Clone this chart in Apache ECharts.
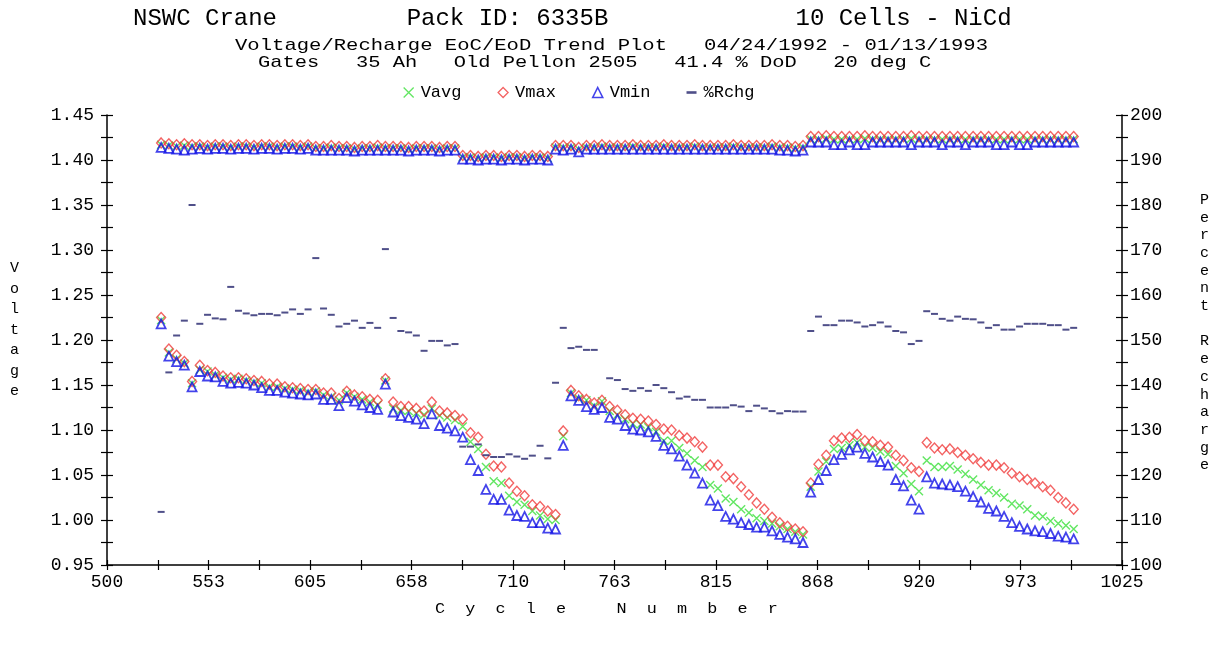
<!DOCTYPE html>
<html><head><meta charset="utf-8">
<script src="https://cdn.jsdelivr.net/npm/echarts@6.0.0/dist/echarts.min.js"></script>
<style>html,body{margin:0;padding:0;background:#fff;}#c{width:1223px;height:653px;}</style>
</head><body><div id="c"></div>
<script>
const cycles = [528,532,536,540,544,548,552,556,560,564,568,572,576,580,584,588,592,596,600,604,
608,612,616,620,624,628,632,636,640,644,648,652,656,660,664,668,672,676,680,
684,688,692,696,700,704,708,712,716,720,724,728,
732,736,740,744,748,752,756,760,764,768,772,776,780,784,788,792,796,800,804,808,812,816,820,824,828,832,836,840,844,848,852,856,860,
864,868,872,876,880,884,888,892,896,900,904,908,912,916,920,924,928,932,936,940,944,948,952,956,960,964,968,972,976,980,984,988,992,996,1000];
const xTickLabels = ['500','553','605','658','710','763','815','868','920','973','1025'];

const vmaxEoC = [1.419,1.418,1.417,1.418,1.417,1.417,1.416,1.417,1.417,1.416,1.417,1.417,1.416,1.417,1.417,1.416,1.417,1.417,1.416,1.417,
1.415,1.415,1.416,1.415,1.415,1.414,1.415,1.415,1.416,1.415,1.415,1.415,1.414,1.415,1.415,1.415,1.414,1.415,1.415,
1.405,1.405,1.404,1.405,1.405,1.404,1.405,1.405,1.404,1.405,1.405,1.404,
1.416,1.416,1.416,1.414,1.416,1.416,1.417,1.416,1.416,1.416,1.417,1.416,1.416,1.416,1.417,1.416,1.416,1.416,1.417,1.416,1.416,1.416,1.416,1.417,1.416,1.416,1.416,1.416,1.417,1.416,1.416,1.415,1.416,
1.426,1.426,1.427,1.426,1.426,1.426,1.426,1.427,1.426,1.426,1.426,1.426,1.426,1.427,1.426,1.426,1.426,1.426,1.426,1.426,1.426,1.426,1.426,1.426,1.426,1.426,1.426,1.426,1.426,1.426,1.426,1.426,1.426,1.426,1.426];
const vavgEoC = [1.417,1.416,1.415,1.416,1.415,1.415,1.414,1.415,1.415,1.414,1.415,1.415,1.414,1.415,1.415,1.414,1.415,1.415,1.414,1.415,
1.413,1.413,1.414,1.413,1.413,1.412,1.413,1.413,1.414,1.413,1.413,1.413,1.412,1.413,1.413,1.413,1.412,1.413,1.413,
1.403,1.403,1.402,1.403,1.403,1.402,1.403,1.403,1.402,1.403,1.403,1.402,
1.414,1.414,1.414,1.412,1.414,1.414,1.415,1.414,1.414,1.414,1.415,1.414,1.414,1.414,1.415,1.414,1.414,1.414,1.415,1.414,1.414,1.414,1.414,1.415,1.414,1.414,1.414,1.414,1.415,1.414,1.414,1.413,1.414,
1.423,1.423,1.424,1.423,1.423,1.423,1.423,1.424,1.423,1.423,1.423,1.423,1.423,1.424,1.423,1.423,1.423,1.423,1.423,1.423,1.423,1.423,1.423,1.423,1.423,1.423,1.423,1.423,1.423,1.423,1.423,1.423,1.423,1.423,1.423];
const vminEoC = [1.414,1.413,1.412,1.411,1.412,1.413,1.412,1.413,1.413,1.412,1.413,1.413,1.412,1.413,1.413,1.412,1.413,1.413,1.412,1.413,
1.411,1.411,1.411,1.411,1.411,1.410,1.411,1.411,1.411,1.411,1.411,1.411,1.410,1.411,1.411,1.411,1.410,1.411,1.411,
1.401,1.401,1.400,1.401,1.401,1.400,1.401,1.401,1.400,1.401,1.401,1.400,
1.412,1.411,1.412,1.409,1.412,1.412,1.412,1.412,1.412,1.412,1.412,1.412,1.412,1.412,1.412,1.412,1.412,1.412,1.412,1.412,1.412,1.412,1.412,1.412,1.412,1.412,1.412,1.412,1.412,1.411,1.411,1.410,1.411,
1.420,1.420,1.420,1.417,1.417,1.420,1.417,1.417,1.420,1.420,1.420,1.420,1.420,1.417,1.420,1.420,1.420,1.417,1.420,1.420,1.417,1.420,1.420,1.420,1.417,1.417,1.420,1.417,1.417,1.420,1.420,1.420,1.420,1.420,1.420];

const vmaxEoD = [1.225,1.190,1.183,1.176,1.154,1.172,1.166,1.164,1.160,1.158,1.158,1.157,1.155,1.154,1.151,1.151,1.148,1.147,1.146,1.145,
1.145,1.141,1.141,1.135,1.143,1.139,1.137,1.134,1.133,1.157,1.131,1.126,1.126,1.124,1.121,1.131,1.121,1.119,1.116,
1.112,1.097,1.092,1.073,1.060,1.059,1.041,1.032,1.027,1.017,1.015,1.010,
1.006,1.099,1.144,1.138,1.134,1.130,1.133,1.126,1.122,1.117,1.113,1.112,1.110,1.106,1.101,1.100,1.094,1.091,1.087,1.081,1.061,1.061,1.048,1.046,1.037,1.028,1.019,1.012,1.003,0.997,0.993,0.990,0.987,
1.041,1.062,1.072,1.088,1.091,1.092,1.095,1.088,1.087,1.083,1.081,1.072,1.066,1.058,1.054,1.086,1.080,1.078,1.079,1.075,1.072,1.068,1.064,1.061,1.061,1.058,1.052,1.048,1.045,1.041,1.037,1.033,1.025,1.019,1.012];
const vavgEoD = [1.222,1.186,1.179,1.174,1.152,1.167,1.165,1.161,1.158,1.156,1.157,1.155,1.153,1.152,1.148,1.148,1.146,1.145,1.144,1.142,
1.143,1.139,1.137,1.133,1.141,1.137,1.134,1.131,1.128,1.155,1.124,1.122,1.121,1.119,1.117,1.124,1.116,1.114,1.111,
1.104,1.087,1.079,1.059,1.043,1.041,1.027,1.020,1.017,1.010,1.005,1.001,
1.000,1.093,1.141,1.135,1.133,1.127,1.132,1.121,1.117,1.112,1.107,1.106,1.103,1.098,1.088,1.088,1.080,1.074,1.066,1.059,1.039,1.035,1.024,1.020,1.012,1.008,1.002,0.999,0.996,0.993,0.990,0.987,0.984,
1.037,1.054,1.065,1.079,1.080,1.083,1.086,1.081,1.080,1.076,1.073,1.060,1.052,1.040,1.032,1.066,1.059,1.059,1.060,1.056,1.051,1.045,1.039,1.033,1.030,1.025,1.018,1.016,1.012,1.005,1.004,0.999,0.996,0.994,0.990];
const vminEoD = [1.218,1.182,1.176,1.172,1.148,1.165,1.160,1.159,1.154,1.152,1.153,1.152,1.150,1.147,1.144,1.144,1.142,1.141,1.140,1.139,
1.140,1.134,1.134,1.127,1.136,1.132,1.128,1.125,1.123,1.151,1.120,1.116,1.114,1.112,1.107,1.118,1.105,1.102,1.099,
1.092,1.067,1.055,1.034,1.023,1.023,1.011,1.005,1.004,0.997,0.997,0.991,
0.990,1.083,1.138,1.133,1.126,1.123,1.125,1.114,1.112,1.105,1.101,1.100,1.098,1.093,1.083,1.079,1.071,1.061,1.052,1.041,1.022,1.016,1.004,1.001,0.997,0.995,0.992,0.992,0.988,0.984,0.981,0.979,0.975,
1.031,1.045,1.055,1.067,1.073,1.078,1.081,1.074,1.070,1.065,1.061,1.045,1.038,1.022,1.012,1.048,1.041,1.040,1.039,1.037,1.032,1.026,1.020,1.013,1.010,1.004,0.997,0.993,0.990,0.988,0.987,0.985,0.982,0.981,0.979];

const rchg = [111.8,142.8,151.0,154.3,180.0,153.6,155.6,154.8,154.6,161.8,156.5,155.9,155.5,155.8,155.8,155.5,156.1,156.8,155.8,156.8,
168.2,157.0,155.6,153.0,153.6,154.3,152.7,153.8,152.7,170.2,154.9,152.0,151.7,151.0,147.6,149.8,149.8,148.8,149.1,
126.3,126.3,126.8,124.4,124.0,124.0,124.6,124.1,123.6,124.3,126.5,123.7,
140.5,152.7,148.2,148.5,147.8,147.8,null,141.5,141.1,139.1,138.7,139.3,138.7,140.0,139.3,138.4,137.0,137.4,136.7,136.7,135.0,135.0,135.0,135.5,135.2,134.2,135.4,134.8,134.2,133.7,134.2,134.1,134.1,
152.0,155.2,153.3,153.3,154.3,154.3,153.9,153.0,153.3,153.9,153.0,152.0,151.7,149.1,149.8,156.4,155.8,154.7,154.3,155.2,154.7,154.6,153.9,152.7,153.3,152.3,152.3,153.0,153.6,153.6,153.6,153.3,153.3,152.3,152.7];

const FONT = 'Liberation Mono';
const pairs = (eoc, eod) => cycles.flatMap((c, i) => [[c, eoc[i]], [c, eod[i]]]);
const rchgData = cycles.map((c, i) => rchg[i] == null ? null : [c, rchg[i]]).filter(d => d);

const grid = {left: 107, right: 101, top: 115, bottom: 88};
const axisLine = {show: true, lineStyle: {color: '#000', width: 1.5}};
const tickStyle = {color: '#000', width: 1.2};
const X_ICON = 'path://M0,0L10,10M10,0L0,10';
const DASH_ICON = 'path://M0,0L10,0L10,2.6L0,2.6Z';

const chart = echarts.init(document.getElementById('c'), null, {renderer: 'canvas'});
chart.setOption({
  animation: false,
  backgroundColor: '#fff',
  textStyle: {fontFamily: FONT, color: '#000'},
  grid: grid,
  legend: {
    top: 79, left: 398,
    itemGap: 36, itemWidth: 10, itemHeight: 10,
    textStyle: {fontFamily: FONT, fontSize: 17, color: '#000', padding: [0, 0, 0, 2]},
    data: [
      {name: 'Vavg', icon: X_ICON, itemStyle: {color: 'transparent', borderColor: '#3be03b', borderWidth: 1.3}},
      {name: 'Vmax', icon: 'diamond', itemStyle: {color: 'transparent', borderColor: '#f03c3c', borderWidth: 1.3}},
      {name: 'Vmin', icon: 'triangle', itemStyle: {color: 'transparent', borderColor: '#1414e6', borderWidth: 1.6}},
      {name: '%Rchg', icon: DASH_ICON, itemStyle: {color: '#23236b'}}
    ]
  },
  xAxis: [
    {type: 'value', min: 500, max: 1025, interval: 52.5, axisLine: axisLine,
     axisTick: {show: true, inside: false, length: 5, lineStyle: tickStyle},
     minorTick: {show: true, splitNumber: 2, length: 5, lineStyle: tickStyle},
     axisLabel: {fontFamily: FONT, fontSize: 18, color: '#000', margin: 8,
       formatter: v => xTickLabels[Math.round((v - 500) / 52.5)]},
     splitLine: {show: false}},
    {type: 'value', min: 500, max: 1025, interval: 52.5, position: 'bottom',
     axisLine: {show: false},
     axisTick: {show: true, inside: true, length: 5, lineStyle: tickStyle},
     minorTick: {show: true, splitNumber: 2, length: 5, lineStyle: tickStyle},
     axisLabel: {show: false}, splitLine: {show: false}}
  ],
  yAxis: [
    {type: 'value', position: 'left', min: 0.95, max: 1.45, interval: 0.05, axisLine: axisLine,
     axisTick: {show: true, length: 6, lineStyle: tickStyle},
     minorTick: {show: true, splitNumber: 2, length: 6, lineStyle: tickStyle},
     axisLabel: {fontFamily: FONT, fontSize: 18, color: '#000', margin: 13, formatter: v => v.toFixed(2)},
     splitLine: {show: false}},
    {type: 'value', position: 'right', min: 100, max: 200, interval: 10, axisLine: axisLine,
     axisTick: {show: true, length: 6, lineStyle: tickStyle},
     minorTick: {show: true, splitNumber: 2, length: 6, lineStyle: tickStyle},
     axisLabel: {fontFamily: FONT, fontSize: 18, color: '#000', margin: 8},
     splitLine: {show: false}},
    {type: 'value', position: 'left', min: 0.95, max: 1.45, interval: 0.05, axisLine: {show: false},
     axisTick: {show: true, inside: true, length: 6, lineStyle: tickStyle},
     minorTick: {show: true, splitNumber: 2, length: 6, lineStyle: tickStyle},
     axisLabel: {show: false}, splitLine: {show: false}},
    {type: 'value', position: 'right', min: 100, max: 200, interval: 10, axisLine: {show: false},
     axisTick: {show: true, inside: true, length: 6, lineStyle: tickStyle},
     minorTick: {show: true, splitNumber: 2, length: 6, lineStyle: tickStyle},
     axisLabel: {show: false}, splitLine: {show: false}}
  ],
  graphic: [
    {type: 'text', x: 133, y: 7, style: {text: 'NSWC Crane         Pack ID: 6335B             10 Cells - NiCd', font: '24px "Liberation Mono"', fill: '#000'}},
    {type: 'text', x: 235, y: 37, scaleX: 1.21, style: {text: 'Voltage/Recharge EoC/EoD Trend Plot   04/24/1992 - 01/13/1993', font: '17px "Liberation Mono"', fill: '#000'}},
    {type: 'text', x: 258, y: 54, scaleX: 1.2, style: {text: 'Gates   35 Ah   Old Pellon 2505   41.4 % DoD   20 deg C', font: '17px "Liberation Mono"', fill: '#000'}},
    {type: 'text', x: 10, y: 258, style: {text: 'V\no\nl\nt\na\ng\ne', font: '15px "Liberation Mono"', lineHeight: 20.5, fill: '#000'}},
    {type: 'text', x: 1200, y: 191, style: {text: 'P\ne\nr\nc\ne\nn\nt\n\nR\ne\nc\nh\na\nr\ng\ne', font: '15px "Liberation Mono"', lineHeight: 17.7, fill: '#000'}},
    {type: 'text', x: 435, y: 602, scaleX: 1.12, style: {text: 'C  y  c  l  e     N  u  m  b  e  r', font: '15px "Liberation Mono"', fill: '#000'}}
  ],
  series: [
    {name: 'Vavg', type: 'scatter', xAxisIndex: 0, yAxisIndex: 0,
     symbol: X_ICON, symbolSize: 8,
     itemStyle: {color: 'transparent', borderColor: '#3be03b', borderWidth: 1.4},
     data: pairs(vavgEoC, vavgEoD)},
    {name: 'Vmax', type: 'scatter', xAxisIndex: 0, yAxisIndex: 0,
     symbol: 'diamond', symbolSize: [9, 10],
     itemStyle: {color: 'transparent', borderColor: '#f03c3c', borderWidth: 1.4},
     data: pairs(vmaxEoC, vmaxEoD)},
    {name: 'Vmin', type: 'scatter', xAxisIndex: 0, yAxisIndex: 0,
     symbol: 'triangle', symbolSize: [9, 9],
     itemStyle: {color: 'transparent', borderColor: '#1414e6', borderWidth: 1.8},
     data: pairs(vminEoC, vminEoD)},
    {name: '%Rchg', type: 'scatter', xAxisIndex: 0, yAxisIndex: 1,
     symbol: 'rect', symbolSize: [7, 2],
     itemStyle: {color: '#23236b'},
     data: rchgData}
  ]
});
</script></body></html>
